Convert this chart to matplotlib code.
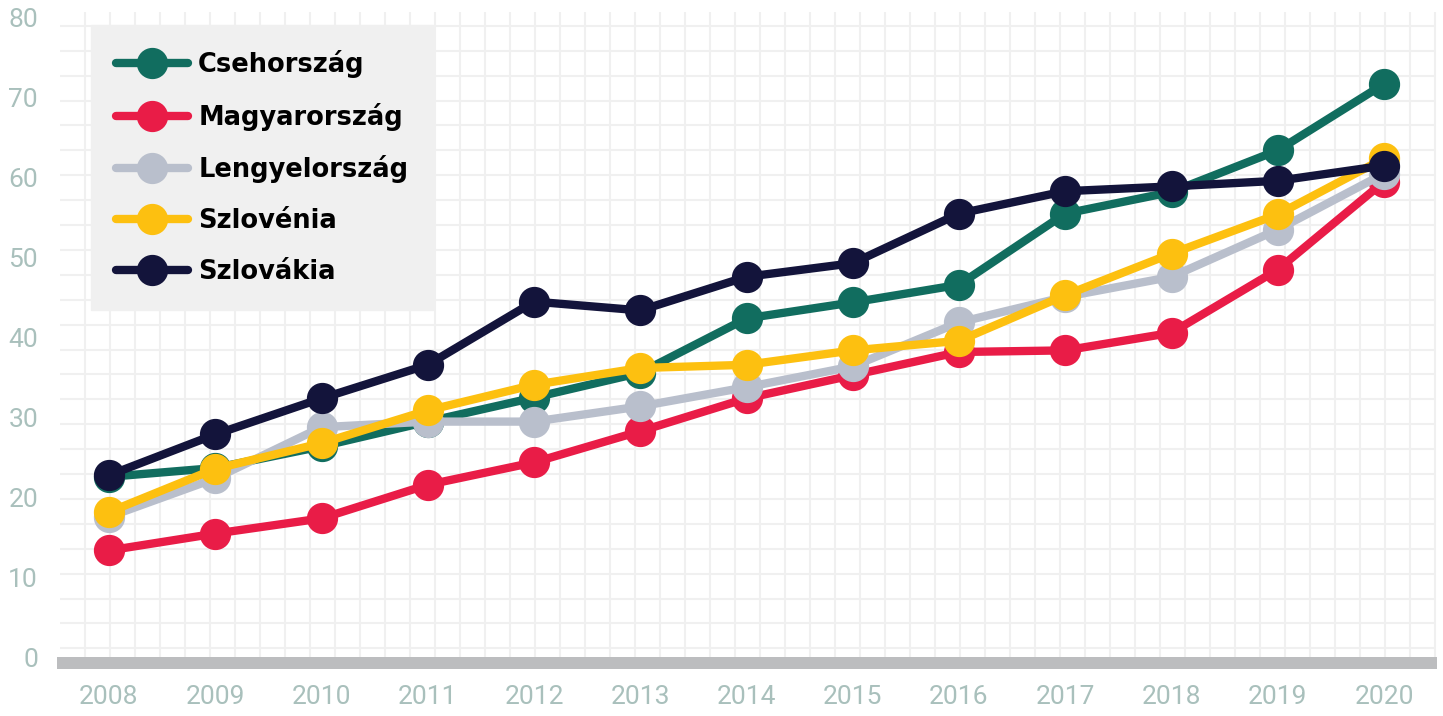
import numpy as np
import matplotlib.pyplot as plt

# -----------------------------
# DATA
# -----------------------------
years = [2008, 2009, 2010, 2011, 2012, 2013, 2014, 2015, 2016, 2017, 2018, 2019, 2020]

cseh      = [22.9, 24.0, 26.7, 29.8, 32.8, 35.9, 42.7, 44.7, 46.9, 55.8, 58.5, 63.7, 72.0]
magyar    = [13.7, 15.8, 17.7, 21.9, 24.7, 28.6, 32.7, 35.6, 38.5, 38.7, 40.9, 48.8, 59.8]
lengyel   = [17.9, 22.7, 29.1, 29.8, 29.8, 31.7, 34.1, 36.7, 42.2, 45.4, 47.9, 53.8, 60.8]
szlovenia = [18.5, 23.9, 27.1, 31.2, 34.4, 36.5, 36.9, 38.7, 39.9, 45.6, 50.8, 55.7, 62.7]
szlovakia = [23.1, 28.2, 32.7, 36.9, 44.8, 43.7, 47.9, 49.6, 55.8, 58.6, 59.2, 59.9, 61.8]

labels = ["Csehország", "Magyarország", "Lengyelország", "Szlovénia", "Szlovákia"]
colors = ["#116d5f", "#e91c47", "#b9bfcc", "#fdc010", "#13143b"]
series = [cseh, magyar, lengyel, szlovenia, szlovakia]

y_ticks = [0, 10, 20, 30, 40, 50, 60, 70, 80]

W, H = 1443, 716
TICK_COLOR = "#a9c0bc"
GRID_COLOR = "#f0f0f0"

# pixel <-> data helpers (layout only)
X0, XSTEP = 109, 106.25
Y0, YSTEP = 660, 8.0

def px2x(p):
    return years[0] + (p - X0) / XSTEP

def px2y(p):
    return (Y0 - p) / YSTEP

fig = plt.figure(figsize=(W / 100, H / 100), dpi=100)
ax = fig.add_axes([0, 0, 1, 1])
ax.set_xlim(px2x(0), px2x(W))
ax.set_ylim(px2y(H), px2y(0))
ax.axis("off")

# -----------------------------
# BACKGROUND GRID
# -----------------------------
for p in np.arange(85, 1436, 25):
    ax.vlines(px2x(p), px2y(657), px2y(12), color=GRID_COLOR, lw=1.5, zorder=0)
for p in np.arange(648.3, 25, -24.9):
    ax.hlines(px2y(p), px2x(60), px2x(1435), color=GRID_COLOR, lw=1.5, zorder=0)

# baseline bar
ax.axhspan(px2y(669), px2y(657), xmin=57 / W, xmax=1437 / W, color="#bcbdbf", lw=0, zorder=1)

# -----------------------------
# LINES
# -----------------------------
for vals, lab, col in zip(series, labels, colors):
    ax.plot(years, vals, color=col, lw=6, marker="o", markersize=21.5,
            solid_capstyle="round", label=lab, zorder=3)

# -----------------------------
# TICK LABELS
# -----------------------------
for v in y_ticks:
    ax.text(px2x(38), v, str(v), ha="right", va="center", fontsize=19,
            color=TICK_COLOR, family="Roboto")
for yr in years:
    ax.text(yr, px2y(697), str(yr), ha="center", va="center", fontsize=19,
            color=TICK_COLOR, family="Roboto")

# -----------------------------
# LEGEND
# -----------------------------
leg = ax.legend(loc="upper left", bbox_to_anchor=(91 / W, 1 - 25 / H),
                borderaxespad=0, fancybox=False, framealpha=1,
                facecolor="#f0f0f0", edgecolor="#f0f0f0",
                handlelength=2.8, handletextpad=0.4, borderpad=0.97,
                labelspacing=0.96, prop={"size": 18.5, "weight": "bold"})
leg.set_zorder(5)

fig.savefig("out.png", dpi=100)
